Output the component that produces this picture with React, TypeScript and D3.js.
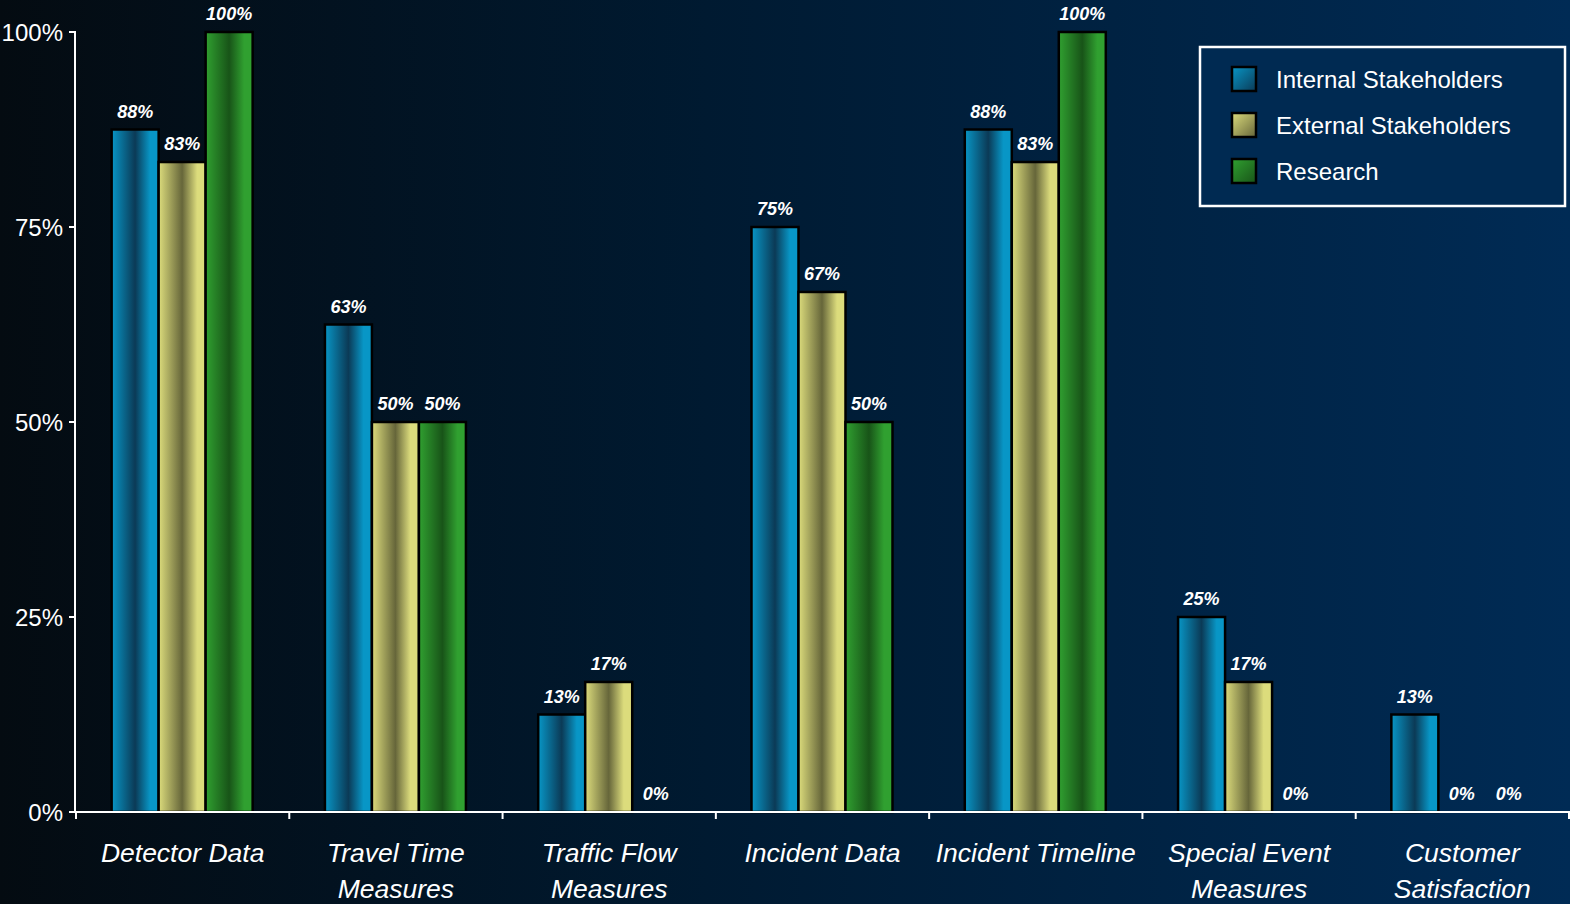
import React from "react";
import * as d3 from "d3";

const categories = [
  ["Detector Data"],
  ["Travel Time", "Measures"],
  ["Traffic Flow", "Measures"],
  ["Incident Data"],
  ["Incident Timeline"],
  ["Special Event", "Measures"],
  ["Customer", "Satisfaction"],
];
const seriesNames = ["Internal Stakeholders", "External Stakeholders", "Research"];
const internalValues = [87.5, 62.5, 12.5, 75, 87.5, 25, 12.5];
const externalValues = [83.33, 50, 16.67, 66.67, 83.33, 16.67, 0];
const researchValues = [100, 50, 0, 50, 100, 0, 0];
const yTicks = [0, 25, 50, 75, 100];

const W = 1570;
const H = 904;
const margin = { left: 76, right: 1, top: 32, bottom: 92 };
const FONT = "'Liberation Sans', Arial, sans-serif";

const palettes = [
  { light: "#0896c6", dark: "#0b3a56", id: "gBlue" },
  { light: "#dcdc7c", dark: "#66663a", id: "gYellow" },
  { light: "#30a030", dark: "#185418", id: "gGreen" },
];

export default function App() {
  const series = [internalValues, externalValues, researchValues];
  const x0 = d3
    .scaleBand<number>()
    .domain(d3.range(categories.length))
    .range([margin.left, W - margin.right])
    .paddingInner(0)
    .paddingOuter(0);
  const groupW = x0.bandwidth();
  const barW = 47;
  const groupPad = (groupW - barW * 3) / 2 - 0.5;
  const x1 = d3
    .scaleBand<number>()
    .domain([0, 1, 2])
    .range([groupPad, groupPad + barW * 3])
    .padding(0);
  const y = d3.scaleLinear().domain([0, 100]).range([H - margin.bottom, margin.top]);
  const y0 = y(0);

  return (
    <div style={{ position: "fixed", left: 0, top: 0 }}>
      <svg width={W} height={H} style={{ display: "block" }}>
        <defs>
          <linearGradient id="bg" x1="0" y1="0" x2="1" y2="0">
            <stop offset="0" stopColor="#040b11" />
            <stop offset="0.45" stopColor="#001a31" />
            <stop offset="1" stopColor="#002b55" />
          </linearGradient>
          {palettes.map((p) => (
            <linearGradient key={p.id} id={p.id} x1="0" y1="0" x2="1" y2="0">
              <stop offset="0" stopColor={p.light} />
              <stop offset="0.5" stopColor={p.dark} />
              <stop offset="0.82" stopColor={p.light} />
              <stop offset="1" stopColor={p.light} />
            </linearGradient>
          ))}
          {palettes.map((p) => (
            <linearGradient key={p.id + "L"} id={p.id + "L"} x1="0" y1="0" x2="1" y2="1">
              <stop offset="0" stopColor={p.light} />
              <stop offset="1" stopColor={p.dark} />
            </linearGradient>
          ))}
        </defs>
        <rect x={0} y={0} width={W} height={H} fill="url(#bg)" />

        {/* bars */}
        {categories.map((_, ci) => (
          <g key={ci} transform={`translate(${x0(ci)},0)`}>
            {series.map((vals, si) => {
              const v = vals[ci];
              const bx = x1(si)!;
              const top = y(v);
              return (
                <g key={si}>
                  {v > 0 && (
                    <rect
                      x={bx}
                      y={top}
                      width={barW}
                      height={y0 - top}
                      fill={`url(#${palettes[si].id})`}
                      stroke="#000"
                      strokeWidth={2.5}
                    />
                  )}
                  <text
                    x={bx + barW / 2}
                    y={top - 12}
                    textAnchor="middle"
                    fill="#fff"
                    fontFamily={FONT}
                    fontWeight="bold"
                    fontStyle="italic"
                    fontSize={18}
                  >
                    {`${Math.round(v)}%`}
                  </text>
                </g>
              );
            })}
          </g>
        ))}

        {/* y axis */}
        <line x1={margin.left - 1} x2={margin.left - 1} y1={margin.top - 1} y2={y0 + 1} stroke="#fff" strokeWidth={2} />
        {yTicks.map((t) => (
          <g key={t}>
            <line x1={margin.left - 7} x2={margin.left} y1={y(t)} y2={y(t)} stroke="#fff" strokeWidth={2} />
            <text
              x={margin.left - 13}
              y={y(t) + 9}
              textAnchor="end"
              fill="#fff"
              fontFamily={FONT}
              fontSize={24}
            >
              {`${t}%`}
            </text>
          </g>
        ))}

        {/* x axis */}
        <line x1={margin.left - 7} x2={W} y1={y0} y2={y0} stroke="#fff" strokeWidth={2} />
        {d3.range(categories.length + 1).map((i) => {
          const xx = i < categories.length ? x0(i)! : W - margin.right;
          return <line key={i} x1={xx} x2={xx} y1={y0} y2={y0 + 7} stroke="#fff" strokeWidth={2} />;
        })}
        {categories.map((lines, ci) => (
          <text
            key={ci}
            x={x0(ci)! + groupW / 2}
            y={862}
            textAnchor="middle"
            fill="#fff"
            fontFamily={FONT}
            fontStyle="italic"
            fontSize={26.5}
          >
            {lines.map((l, li) => (
              <tspan key={li} x={x0(ci)! + groupW / 2} dy={li === 0 ? 0 : 36}>
                {l}
              </tspan>
            ))}
          </text>
        ))}

        {/* legend */}
        <rect x={1200} y={47} width={365} height={159} fill="#002a52" stroke="#fff" strokeWidth={2.5} />
        {seriesNames.map((n, i) => (
          <g key={n} transform={`translate(1232,${67 + i * 46})`}>
            <rect x={0} y={0} width={24} height={24} fill={`url(#${palettes[i].id}L)`} stroke="#000" strokeWidth={2.5} />
            <text x={44} y={21} fill="#fff" fontFamily={FONT} fontSize={24}>
              {n}
            </text>
          </g>
        ))}
      </svg>
    </div>
  );
}
